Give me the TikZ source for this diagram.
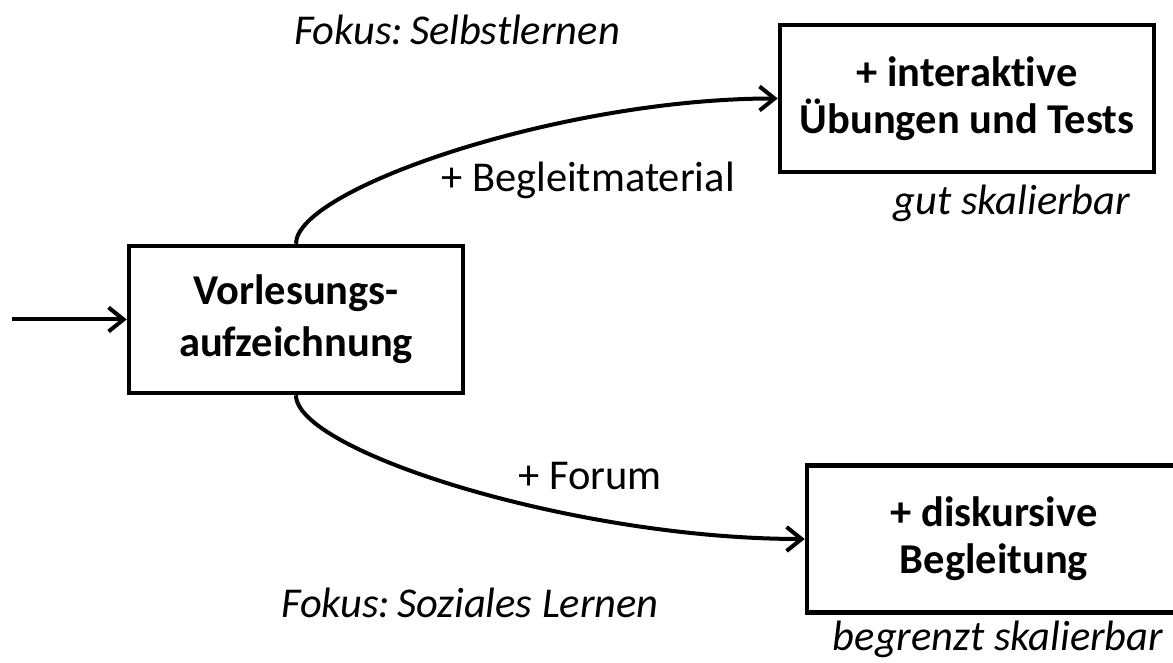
\documentclass[tikz,border=0pt]{standalone}
\usepackage{fontspec}
\setmainfont{Carlito}[Ligatures = NoCommon]
\usetikzlibrary{arrows.meta, positioning}
\tikzset{x = 1pt, y = 1pt,
         node distance = 2cm, on grid,
         >= {Straight Barb[length = 15pt, width = 24pt]},
         block/.style = {draw, line width = 4.5pt, minimum height = 147pt,
                         align = center,
                         font = \bfseries\fontsize{42.5}{47}\selectfont},
         note/.style = {anchor = base, font = \itshape\fontsize{42.5}{49}\selectfont},
         plus/.style = {anchor = base, font = \fontsize{42.5}{49}\selectfont},
         flow/.style = {->, line width = 4pt}}

\begin{document}
\begin{tikzpicture}
        \useasboundingbox (0,0) rectangle (1173,663);

        \node[block, minimum width = 334pt,
              font = \bfseries\fontsize{42.5}{52}\selectfont]
                                             (vl)  at (296,343.5)  {Vorlesungs-\\aufzeichnung};
        \node[block, minimum width = 374pt]  (ueb) [above right = 221pt and 671pt of vl]
                                                  {+ interaktive\\Übungen und Tests};
        \node[block, minimum width = 374pt]  (dis) [below right = 219.5pt and 698pt of vl]
                                                  {+ diskursive\\Begleitung};
        \coordinate (src) at (12,343.5);

        \node[note] (fsl)  at (457,618)  {Fokus:\,Selbstlernen};
        \node[plus] (bgm)  at (588,471)  {+ Begleitmaterial};
        \node[note] (gut)  at (1012,448) {gut skalierbar};
        \node[plus] (frm)  at (590,173)  {+ Forum};
        \node[note] (fsoz) at (470,45)   {Fokus:\,Soziales Lernen};
        \node[note] (beg)  at (998,12)   {begrenzt skalierbar};

        \draw[flow] (src) -- (vl);
        \path[flow] (vl.north) edge [out = 90, in = 180,
                                     out looseness = 0.28, in looseness = 1.1] (ueb.west);
        \path[flow] (vl.south) edge [out = -90, in = 180,
                                     out looseness = 0.27, in looseness = 1.12] (dis.west);
\end{tikzpicture}
\end{document}
